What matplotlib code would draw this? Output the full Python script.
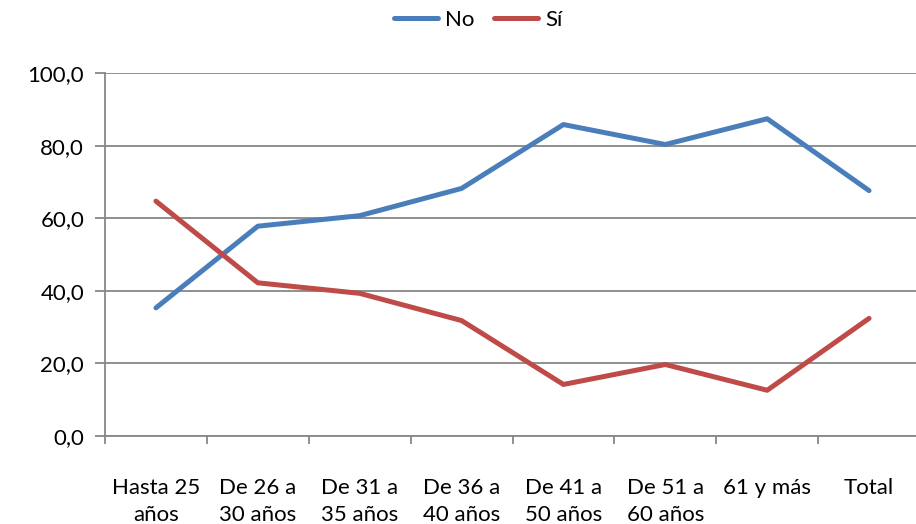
import numpy as np
import matplotlib.pyplot as plt

categorias = ['Hasta 25\naños', 'De 26 a\n30 años', 'De 31 a\n35 años', 'De 36 a\n40 años',
              'De 41 a\n50 años', 'De 51 a\n60 años', '61 y más', 'Total']
no = [35.3, 57.8, 60.7, 68.2, 85.8, 80.3, 87.4, 67.6]
si = [64.7, 42.2, 39.3, 31.8, 14.2, 19.7, 12.6, 32.4]

plt.rcParams['font.family'] = ['Lato', 'DejaVu Sans']

fig = plt.figure(figsize=(9.16, 5.24), dpi=100)
ax = fig.add_axes([105 / 916, 1 - 436 / 524, 815 / 916, 363 / 524])

x = np.arange(len(categorias))
ax.plot(x, no, color='#4A7EBB', lw=3.6, label='No', solid_capstyle='round')
ax.plot(x, si, color='#BE4B48', lw=3.6, label='Sí', solid_capstyle='round')

ax.set_xlim(-0.5, len(categorias) - 0.5)
ax.set_ylim(0, 100)
ax.set_yticks(np.arange(0, 101, 20))
ax.set_yticklabels([f'{v:.1f}'.replace('.', ',') for v in np.arange(0, 101, 20)], fontsize=16)
ax.yaxis.grid(True, color='#878787', lw=1.3)
ax.set_axisbelow(True)

# ticks between categories, labels centred
ax.set_xticks(np.arange(-0.5, len(categorias), 1))
ax.set_xticklabels([])
ax.set_xticks(x, minor=True)
ax.set_xticklabels(categorias, minor=True, fontsize=16, linespacing=1.45)
ax.tick_params(axis='x', which='minor', length=0, pad=30)
ax.tick_params(axis='x', which='major', length=6, color='#878787', width=1.3)
ax.tick_params(axis='y', length=7, color='#878787', width=1.3, pad=8)

for s in ['top', 'right']:
    ax.spines[s].set_visible(False)
for s in ['left', 'bottom']:
    ax.spines[s].set_color('#878787')
    ax.spines[s].set_linewidth(1.3)

fig.legend(loc='center', bbox_to_anchor=(478 / 916, 1 - 20 / 524), ncol=2, frameon=False,
           fontsize=16, handlelength=2.0, columnspacing=0.9, handletextpad=0.3)

fig.savefig('out.png', dpi=100)
